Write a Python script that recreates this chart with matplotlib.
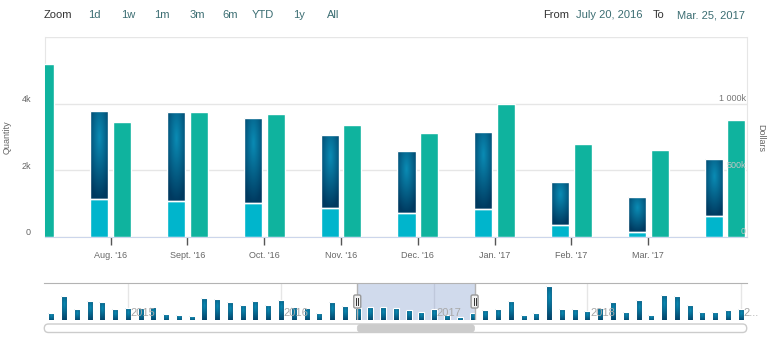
import matplotlib
matplotlib.use("Agg")
import matplotlib.pyplot as plt
import matplotlib.transforms as mtransforms
from matplotlib.patches import FancyBboxPatch
import numpy as np

plt.rcParams['font.family'] = ['Liberation Sans', 'DejaVu Sans']

# main view: one group per month, Jul. '16 .. Apr. '17
month_labels = ["Jul. '16", "Aug. '16", "Sept. '16", "Oct. '16", "Nov. '16",
                "Dec. '16", "Jan. '17", "Feb. '17", "Mar. '17", "Apr. '17"]
qty_base = [1000, 1140, 1060, 1000, 850, 700, 820, 340, 140, 620]
qty_total = [3510, 3770, 3740, 3580, 3050, 2580, 3160, 1640, 1190, 2330]
dollars = [1300000, 860000, 935000, 922000, 838000, 778000, 1000000, 695000, 650000, 880000]

# navigator: monthly total quantity Jul. 2014 .. Jan. 2019
nav_before = [2340, 6440, 3260, 5190, 4940, 3260, 3510, 3510, 3760, 2090, 1840, 1590,
              6010, 5760, 4940, 4340, 5340, 4340, 5510, 3760, 3440, 2340, 4940, 3940]
nav_after = [3010, 3260, 5340, 1840, 2340, 9010, 3260, 3260, 2840, 3510, 4940, 2590,
             5510, 1840, 6690, 6440, 4190, 2590, 2590, 3010, 3260]
nav_qty = nav_before + qty_total + nav_after
nav_years = ["2015", "2016", "2017", "2018", "2..."]
nav_year_idx = [6, 18, 30, 42, 54]
sel_range = (23.97, 33.16)

buttons = ["1d", "1w", "1m", "3m", "6m", "YTD", "1y", "All"]
button_x = [94, 128, 162, 197, 230, 263, 299, 333]

W, H = 769, 337
DARK_TOP = np.array([0.04, 0.55, 0.71])
DARK_EDGE = np.array([0.0, 0.23, 0.38])
CYAN = '#00b5cc'
TEAL = '#0fb39e'
AXIS_GRAY = '#666666'
BTN = '#3b6d72'


def shade(ax, patches, c0, c1, z=2):
    # radial gradient like the highcharts column fill
    u = np.linspace(0, 1, 40)
    v = np.linspace(0, 1, 120)
    U, V = np.meshgrid(u, v)
    d = np.clip(np.hypot(U - 0.5, V - 0.3) / 0.7, 0, 1)[..., None]
    img = c0 * (1 - d) + c1 * d
    for p in patches:
        x0, y0, w, h = p.get_x(), p.get_y(), p.get_width(), p.get_height()
        im = ax.imshow(img, extent=(x0, x0 + w, y0, y0 + h), origin='upper',
                       aspect='auto', interpolation='bilinear', zorder=z - 0.1)
        # keep the axes clip box, add the bar outline as clip path
        im.set_clip_path(mtransforms.TransformedPath(p.get_path(), p.get_transform()))
        p.set_facecolor('none')


def pxbox(x0, y_top, w, h, r, **kw):
    # rounded box in pixel coords measured from the top-left
    return FancyBboxPatch((x0, H - y_top - h), w, h,
                          boxstyle=f"round,pad=0,rounding_size={r}",
                          transform=mtransforms.IdentityTransform(), **kw)


fig = plt.figure(figsize=(W / 100, H / 100), dpi=100)

# ---- main chart ----
ax = fig.add_axes([45 / W, 1 - 236.7 / H, (746.7 - 45) / W, (236.7 - 37.3) / H])
ax2 = ax.twinx()
x = np.arange(len(month_labels))
bw = 0.235
off = 0.148

top_part = [t - b for t, b in zip(qty_total, qty_base)]
ax.bar(x - off, qty_base, bw, color=CYAN, edgecolor='white', linewidth=1, zorder=2)
dark = ax.bar(x - off, top_part, bw, bottom=qty_base, color=DARK_EDGE,
              edgecolor='white', linewidth=1, zorder=2)
shade(ax, dark.patches, DARK_TOP, DARK_EDGE)
ax2.bar(x + off, dollars, bw, color=TEAL, edgecolor='white', linewidth=1, zorder=2)

ax.set_xlim(0.145, 9.282)
ax.set_ylim(0, 6000)
ax2.set_ylim(0, 1500000)

ax.set_yticks([0, 2000, 4000, 6000])
ax.set_yticklabels(['0', '2k', '4k', ''])
ax.grid(axis='y', color='#e6e6e6', linewidth=1)
ax.set_axisbelow(True)
ax.tick_params(axis='y', length=0, labelsize=6.5, labelcolor=AXIS_GRAY, pad=10)
shift_up = mtransforms.ScaledTranslation(0, 0.05, fig.dpi_scale_trans)
for lbl in ax.get_yticklabels():
    lbl.set_transform(lbl.get_transform() + shift_up)

ax.set_xticks(x[1:9])
ax.set_xticklabels(month_labels[1:9])
ax.tick_params(axis='x', length=6, width=1, color='#555555', labelsize=6.5,
               labelcolor=AXIS_GRAY, pad=4)

ax.spines['top'].set_visible(False)
ax.spines['left'].set_color('#e6e6e6')
ax.spines['right'].set_color('#e6e6e6')
ax.spines['bottom'].set_color('#ccd6eb')
for s in ax2.spines.values():
    s.set_visible(False)
ax2.set_yticks([])

# right axis labels sit inside the plot, above the gridlines
rt = mtransforms.blended_transform_factory(ax2.transAxes, ax2.transData)
rt = rt + mtransforms.ScaledTranslation(-0.01, 0.05, fig.dpi_scale_trans)
for val, txt, col in [(0, '0', '#c4c4c4'), (500000, '500k', '#c4c4c4'),
                      (1000000, '1 000k', '#777777')]:
    ax2.text(1.0, val, txt, transform=rt, ha='right', va='center',
             fontsize=6.5, color=col, zorder=5)

fig.text(7.5 / W, 1 - 137 / H, 'Quantity', rotation=90, ha='center', va='center',
         fontsize=6.5, color=AXIS_GRAY)
fig.text(760.8 / W, 1 - 137.5 / H, 'Dollars', rotation=270, ha='center', va='center',
         fontsize=6.5, color=AXIS_GRAY)

# ---- range selector ----
ty = 1 - 15 / H
fig.text(44 / W, ty, 'Zoom', ha='left', va='center', fontsize=8, color='#333333')
for b, bx in zip(buttons, button_x):
    fig.text(bx / W, ty, b, ha='center', va='center', fontsize=8, color=BTN)
fig.text(569 / W, ty, 'From', ha='right', va='center', fontsize=8, color='#333333')
fig.text(576 / W, ty, 'July 20, 2016', ha='left', va='center', fontsize=8, color=BTN)
fig.text(653 / W, ty, 'To', ha='left', va='center', fontsize=8, color='#333333')
fig.text(745 / W, ty, 'Mar. 25, 2017', ha='right', va='center', fontsize=8, color=BTN)

# ---- navigator ----
nav = fig.add_axes([44.3 / W, 1 - 320 / H, (746.7 - 44.3) / W, (320 - 282.7) / H])
nx = np.arange(len(nav_qty))
nb = nav.bar(nx, nav_qty, 0.47, color=DARK_EDGE, edgecolor='white', linewidth=0.8, zorder=2)
shade(nav, nb.patches, DARK_TOP, DARK_EDGE)
nav.set_xlim(-0.54, 54.47)
nav.set_ylim(514, 9840)
nav.axvspan(*sel_range, color=(102 / 255, 133 / 255, 194 / 255), alpha=0.3,
            linewidth=0, zorder=0.5)
yr_tr = (mtransforms.blended_transform_factory(nav.transData, nav.transAxes)
         + mtransforms.ScaledTranslation(0.025, 0, fig.dpi_scale_trans))
for xi, yr in zip(nav_year_idx, nav_years):
    nav.axvline(xi, color='#e6e6e6', linewidth=1, zorder=0.4)
    nav.text(xi, 0.2, yr, transform=yr_tr, ha='left', va='center',
             fontsize=8, color='#a8a8a8', zorder=3)
for xs in sel_range:
    nav.axvline(xs, color='#b3b3b3', linewidth=1, zorder=3)
nav.set_xticks([])
nav.set_yticks([])
for s in nav.spines.values():
    s.set_visible(False)
nav.spines['top'].set_visible(True)
nav.spines['top'].set_color('#b3b3b3')

# handles and scrollbar follow the selected range
fig.canvas.draw()
sx0 = nav.transData.transform((sel_range[0], 600))[0]
sx1 = nav.transData.transform((sel_range[1], 600))[0]
for sx in (sx0, sx1):
    fig.patches.append(pxbox(sx - 3.5, 295, 7, 13, 1.5, facecolor='#f2f2f2',
                             edgecolor='#999999', linewidth=1, zorder=6))
    for dx in (-1, 1):
        fig.lines.append(plt.Line2D([sx + dx, sx + dx], [H - 298, H - 305],
                                    transform=mtransforms.IdentityTransform(),
                                    color='#333333', linewidth=0.7, zorder=7))
fig.patches.append(pxbox(44.3, 324, 746.7 - 44.3, 8.5, 4.2, facecolor='white',
                         edgecolor='#cccccc', linewidth=1, zorder=5))
fig.patches.append(pxbox(sx0, 324.3, sx1 - sx0, 8, 4, facecolor='#cccccc',
                         edgecolor='#cccccc', linewidth=0.5, zorder=6))

fig.savefig('out.png', dpi=100)
